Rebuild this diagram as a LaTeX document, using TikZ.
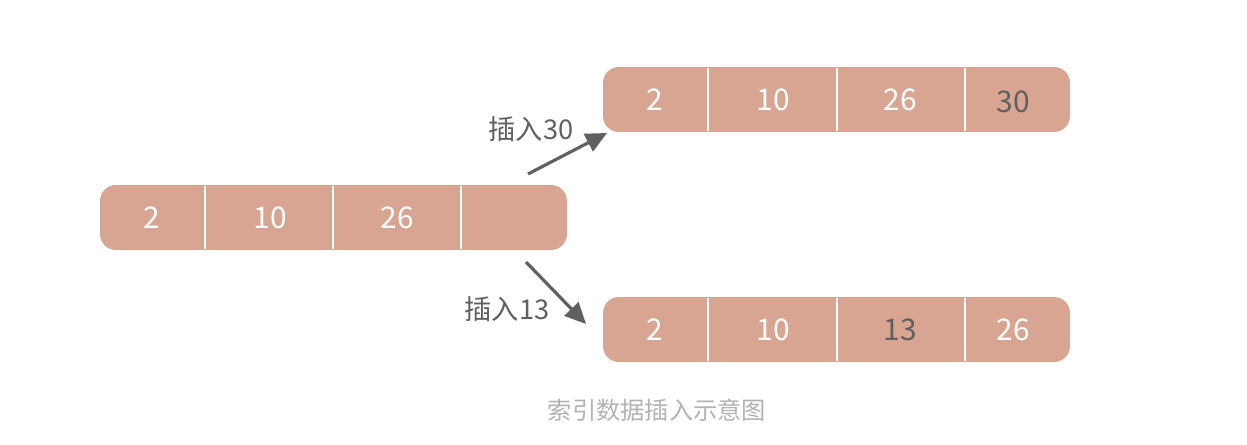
\documentclass[tikz,border=0pt]{standalone}
\usepackage{fontspec}
\setmainfont{Noto Sans CJK SC}
\usepackage{xcolor}
\usetikzlibrary{arrows.meta,positioning}

\definecolor{barfill}{HTML}{D8A592}
\definecolor{inkgray}{HTML}{606060}
\definecolor{capgray}{HTML}{B2B2B2}

\tikzset{
  bar/.style={fill=barfill, draw=none, rounded corners=9pt,
    minimum width=9.34cm, minimum height=1.3cm, inner sep=0pt},
  divider/.style={white, line width=1.6pt},
  num/.style={text=white, font=\fontsize{17}{17}\selectfont},
  newnum/.style={text=inkgray, font=\fontsize{17}{17}\selectfont},
  insert/.style={text=inkgray, font=\fontsize{15.5}{16}\selectfont},
  pointer/.style={draw=inkgray, line width=1.8pt,
    -{Triangle[length=12pt,width=11pt]}},
}

\begin{document}
\begin{tikzpicture}[x=0.02cm, y=-0.02cm]
	\useasboundingbox (0,0) rectangle (1247,445);
	
	% original array
	\node[bar] (old) at (333.5,217.5) {};
	\foreach \x in {205,333,461} \draw[divider] (\x,186) -- (\x,249);
	\node[num] (o1) at (152,218) {2};
	\node[num] (o2) at (270,218) {10};
	\node[num] (o3) at (397,218) {26};
	
	% after inserting 30
	\node[bar] (top) at (836.5,99.5) {};
	\foreach \x in {708,837,965} \draw[divider] (\x,68) -- (\x,131);
	\node[num] (t1) at (655,100) {2};
	\node[num] (t2) at (773,100) {10};
	\node[num] (t3) at (900,100) {26};
	\node[newnum] (t4) at (1013,102) {30};
	
	% after inserting 13
	\node[bar] (bot) at (836.5,329.5) {};
	\foreach \x in {708,837,965} \draw[divider] (\x,298) -- (\x,361);
	\node[num] (b1) at (655,330) {2};
	\node[num] (b2) at (773,330) {10};
	\node[newnum] (b3) at (900,330) {13};
	\node[num] (b4) at (1013,330) {26};
	
	% arrows
	\coordinate (up0) at (528,174);
	\coordinate (up1) at (607,133);
	\coordinate (dn0) at (526,262);
	\coordinate (dn1) at (586,324);
	\draw[pointer] (up0) -- (up1);
	\draw[pointer] (dn0) -- (dn1);
	\node[insert] (ins30) at (531,129) {插入30};
	\node[insert] (ins13) at (507,309) {插入13};
	
	\node[text=capgray, font=\fontsize{13.8}{14}\selectfont] (cap) at (657,410) {索引数据插入示意图};
\end{tikzpicture}
\end{document}
